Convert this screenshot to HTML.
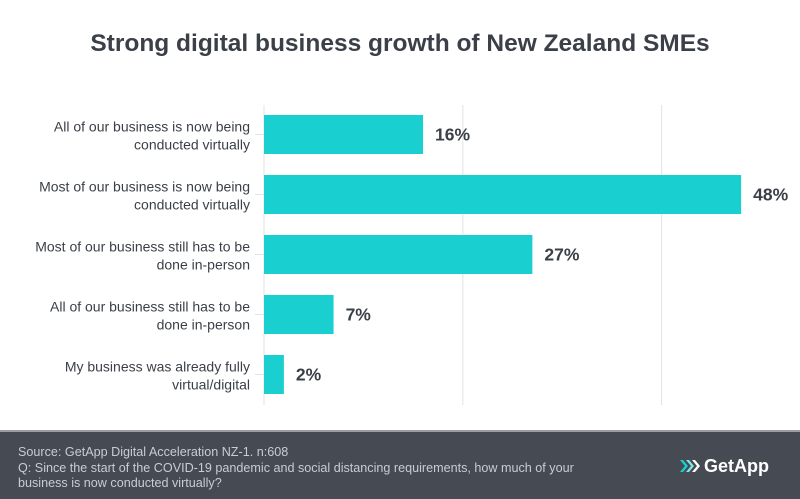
<!DOCTYPE html>
<html><head><meta charset="utf-8"><style>
body{margin:0;width:800px;height:499px;background:#fff;font-family:"Liberation Sans",sans-serif;overflow:hidden;position:relative}
#title{position:absolute;top:30px;left:0;width:800px;text-align:center;font-weight:bold;font-size:24.5px;color:#3b4048}
#footer{position:absolute;left:0;top:430px;width:800px;height:69px;background:#464b53;border-top:2px solid #9a9da1;box-sizing:border-box}
#src{position:absolute;left:18px;top:13px;font-size:12.6px;line-height:15.5px;color:#c9ccd0}
#logo{position:absolute;left:680px;top:24px;font-size:18px;font-weight:bold;color:#fff}
</style></head><body>
<div id="title">Strong digital business growth of New Zealand SMEs</div>
<svg id="chart" width="800" height="430" style="position:absolute;left:0;top:0"></svg>
<div id="footer">
<div id="src">Source: GetApp Digital Acceleration NZ-1. n:608<br>Q: Since the start of the COVID-19 pandemic and social distancing requirements, how much of your<br>business is now conducted virtually?</div>
<div id="logo"><svg width="24" height="14" style="vertical-align:-1px"><polygon points="0,1 3,1 8,7 3,13 0,13 5,7" fill="#19cfcf"/><polygon points="6,1 9,1 14,7 9,13 6,13 11,7" fill="#7fe6e6"/><polygon points="12,1 15,1 20,7 15,13 12,13 17,7" fill="#fff"/></svg>GetApp</div>
</div>
<script>
const categories=[["All of our business is now being","conducted virtually"],["Most of our business is now being","conducted virtually"],["Most of our business still has to be","done in-person"],["All of our business still has to be","done in-person"],["My business was already fully","virtual/digital"]];
const values=[16,48,27,7,2];
const gridTicks=[0,20,40];
const NS="http://www.w3.org/2000/svg";
const svg=document.getElementById('chart');
const x0=264,pxPer=9.94,top0=115,step=60,bh=39;
const xs=v=>x0+v*pxPer;
function mk(t,a){const e=document.createElementNS(NS,t);for(const k in a)e.setAttribute(k,a[k]);svg.appendChild(e);return e;}
gridTicks.forEach(t=>{const l=mk('line',{x1:xs(t),x2:xs(t),y1:105,y2:405,stroke:'#e3e3e3','stroke-width':1});

});
values.forEach((v,i)=>{const y=top0+i*step;
const tk=mk('line',{x1:255,x2:264,y1:y+bh/2,y2:y+bh/2,stroke:'#e3e3e3'});


const r=mk('rect',{x:x0,y:y,width:xs(v)-x0,height:bh,fill:'#19cfcf'});


const t=mk('text',{x:xs(v)+12,y:y+bh/2+6,'font-size':17.5,'font-weight':'bold',fill:'#3b4048'});t.textContent=v+'%';


const c=mk('text',{x:250,y:y+bh/2-3,'font-size':14,fill:'#3b4048','text-anchor':'end'});


categories[i].forEach((ln,j)=>{const s=document.createElementNS(NS,'tspan');s.setAttribute('x',250);s.setAttribute('dy',j?18:0);s.textContent=ln;c.appendChild(s);});
});
</script>
</body></html>
